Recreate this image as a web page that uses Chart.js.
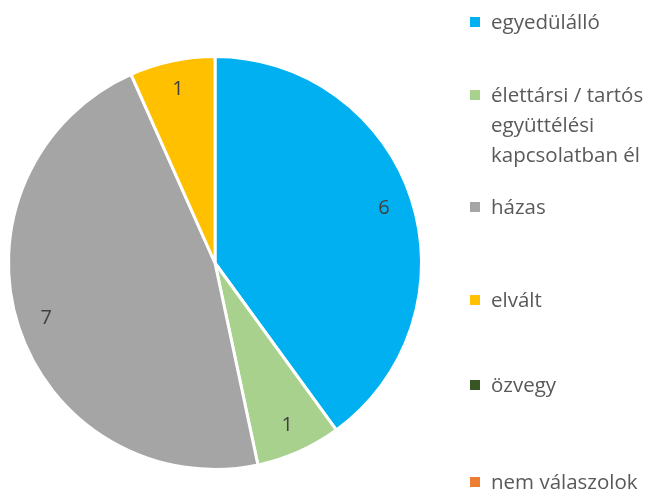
<!DOCTYPE html>
<html>
<head>
<meta charset="utf-8">
<script src="https://cdn.jsdelivr.net/npm/chart.js@4.4.0/dist/chart.umd.min.js"></script>
<style>
  body { margin: 0; background: #fff; font-family: "Open Sans", sans-serif; }
  #wrap { position: relative; width: 649px; height: 492px; overflow: hidden; }
  #pie { position: absolute; left: 0; top: 0; width: 430px; height: 492px; }
  #legenda { position: absolute; left: 0; top: 0; width: 649px; height: 492px; pointer-events: none; }
  .item { position: absolute; left: 470px; font-size: 20.5px; line-height: 30px; color: #595959; width: 179px; white-space: nowrap; }
  .item span.box { position: absolute; left: 0; top: 11px; width: 10px; height: 10px; }
  .item div { margin-left: 21px; }
</style>
</head>
<body>
<div id="wrap">
  <div id="pie"><canvas id="grafica1"></canvas></div>
  <div id="legenda"></div>
</div>
<script>
var kategoriak = ['egyedülálló', 'élettársi / tartós együttélési kapcsolatban él', 'házas', 'elvált', 'özvegy', 'nem válaszolok'];
var legendSorok = [['egyedülálló'], ['élettársi / tartós', 'együttélési', 'kapcsolatban él'], ['házas'], ['elvált'], ['özvegy'], ['nem válaszolok']];
var datos = [6, 1, 7, 1, 0, 0];
var colores = ['#00B0F0', '#A9D18E', '#A5A5A5', '#FFC000', '#375623', '#ED7D31'];

// legend tops (px) from the picture
var legendTop = [6, 79, 191, 284, 369, 466];

var html = '';
for (let i = 0; i < kategoriak.length; i++) {
    html += '<div class="item" style="top:' + legendTop[i] + 'px"><span class="box" style="background:' + colores[i] + '"></span><div>' + legendSorok[i].join('<br>') + '</div></div>';
}
document.getElementById('legenda').innerHTML = html;

var etiquetas = {
    id: 'etiquetas',
    afterDatasetsDraw: function(chart) {
        var ctx = chart.ctx;
        var meta = chart.getDatasetMeta(0);
        ctx.save();
        ctx.font = '20px "Open Sans", sans-serif';
        ctx.fillStyle = '#404040';
        ctx.textAlign = 'center';
        ctx.textBaseline = 'middle';
        meta.data.forEach(function(arc, i) {
            if (!datos[i]) return;
            var p = arc.getProps(['x', 'y', 'startAngle', 'endAngle', 'outerRadius']);
            var a = (p.startAngle + p.endAngle) / 2;
            var r = p.outerRadius * 0.86;
            ctx.fillText(String(datos[i]), p.x + Math.cos(a) * r, p.y + Math.sin(a) * r);
        });
        ctx.restore();
    }
};

var ctx = document.getElementById('grafica1').getContext('2d');
var myChart = new Chart(ctx, {
    type: 'pie',
    data: {
        labels: kategoriak,
        datasets: [{
            data: datos,
            backgroundColor: colores,
            borderColor: '#ffffff',
            borderWidth: 3
        }]
    },
    options: {
        responsive: true,
        maintainAspectRatio: false,
        animation: false,
        layout: { padding: { left: 7, right: 7, top: 55, bottom: 21 } },
        plugins: {
            legend: { display: false },
            tooltip: { enabled: false }
        }
    },
    plugins: [etiquetas]
});
</script>
</body>
</html>
